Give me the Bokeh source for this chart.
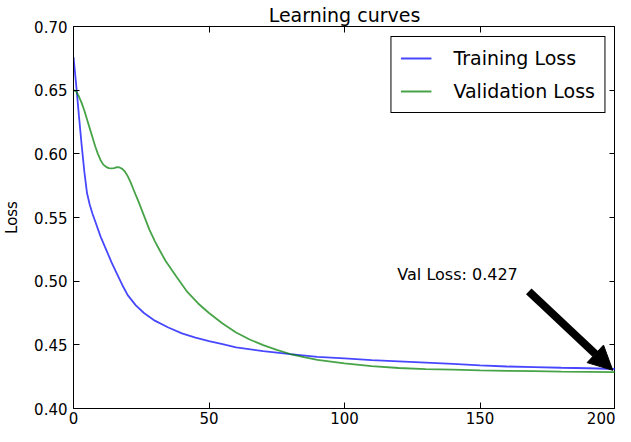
from bokeh.plotting import figure
from bokeh.models import (LinearAxis, Range1d, Arrow, NormalHead, Label, Legend,
                          LegendItem, FixedTicker)
from bokeh.embed import file_html
from bokeh.resources import INLINE

# ---- data ----
train_epochs = [0, 1, 2, 3, 4, 5, 6, 7, 8, 10, 12, 14, 16, 18, 20, 23, 26, 30, 35, 40,
                45, 50, 55, 60, 70, 80, 90, 100, 110, 120, 130, 140, 150, 160, 170, 180,
                190, 200]
train_loss = [0.676, 0.654, 0.630, 0.607, 0.586, 0.569, 0.560, 0.553, 0.547, 0.535,
              0.525, 0.515, 0.506, 0.497, 0.489, 0.481, 0.475, 0.469, 0.4636, 0.459,
              0.4557, 0.453, 0.4505, 0.448, 0.445, 0.4427, 0.4405, 0.4393, 0.438,
              0.437, 0.436, 0.435, 0.4339, 0.433, 0.4325, 0.432, 0.4316, 0.431]

val_epochs = [0, 1, 2, 3, 4, 5, 6, 7, 8, 9, 10, 11, 12, 13, 14, 15, 16, 17, 18, 19, 20,
              21, 22, 23, 24, 26, 28, 30, 32, 34, 38, 42, 46, 50, 55, 60, 65, 70, 75, 80,
              85, 90, 100, 110, 120, 130, 140, 150, 160, 170, 180, 190, 200]
val_loss = [0.650, 0.649, 0.645, 0.640, 0.634, 0.627, 0.620, 0.613, 0.606, 0.600,
            0.595, 0.5915, 0.5898, 0.5888, 0.5885, 0.5888, 0.5895, 0.5893, 0.5882, 0.586,
            0.5825, 0.578, 0.5728, 0.5675, 0.5625, 0.5515, 0.5405, 0.5315, 0.5235, 0.5158,
            0.5035, 0.4915, 0.4825, 0.4750, 0.4668, 0.4597, 0.4542, 0.4498, 0.4460,
            0.4428, 0.4403, 0.4382, 0.4355, 0.4332, 0.4318, 0.431, 0.4305, 0.430,
            0.4296, 0.4293, 0.429, 0.4288, 0.4285]

series_names = ["Training Loss", "Validation Loss"]
x_ticks = [0, 50, 100, 150, 200]
y_ticks = [0.40, 0.45, 0.50, 0.55, 0.60, 0.65, 0.70]
y_tick_labels = ["0.40", "0.45", "0.50", "0.55", "0.60", "0.65", "0.70"]
final_val_loss = 0.427
annot_text_pos = (119.5, 0.505)
annot_arrow_start = (168.0, 0.492)
annot_arrow_end = (199.0, 0.430)

FONT = "DejaVu Sans"

p = figure(width=615, height=426, output_backend="svg", toolbar_location=None,
           x_range=Range1d(0, 200), y_range=Range1d(0.40, 0.70),
           min_border_left=73, min_border_right=0, min_border_top=0,
           min_border_bottom=0, title="Learning curves")

p.title.text_font = FONT
p.title.text_font_size = "19px"
p.title.text_font_style = "normal"
p.title.text_color = "black"
p.title.align = "center"
p.title.standoff = 2

p.xgrid.visible = False
p.ygrid.visible = False
p.outline_line_color = "black"
p.outline_line_width = 1
p.background_fill_color = "white"
p.border_fill_color = "white"


def style_axis(ax, show_labels=True, standoff=5):
    ax.axis_line_color = "black"
    ax.axis_line_width = 1
    ax.major_tick_in = 6
    ax.major_tick_out = 0
    ax.minor_tick_in = 0
    ax.minor_tick_out = 0
    ax.major_tick_line_color = "black"
    ax.major_label_text_font = FONT
    ax.major_label_text_color = "black"
    ax.major_label_standoff = standoff
    if show_labels:
        ax.major_label_text_font_size = "15px"
    else:
        ax.major_label_text_font_size = "1px"
        ax.major_label_text_color = None
        ax.major_label_standoff = 0


p.xaxis.ticker = FixedTicker(ticks=x_ticks)
p.yaxis.ticker = FixedTicker(ticks=y_ticks)
p.yaxis.major_label_overrides = {t: s for t, s in zip(y_ticks, y_tick_labels)}
style_axis(p.xaxis[0], True, 3)
style_axis(p.yaxis[0], True, 6)
p.yaxis.axis_label = "Loss"
p.yaxis.axis_label_text_font = FONT
p.yaxis.axis_label_text_font_size = "15px"
p.yaxis.axis_label_text_font_style = "normal"
p.yaxis.axis_label_text_color = "black"
p.yaxis.axis_label_standoff = 10

top_axis = LinearAxis(ticker=FixedTicker(ticks=x_ticks))
style_axis(top_axis, False)
p.add_layout(top_axis, "above")
right_axis = LinearAxis(ticker=FixedTicker(ticks=y_ticks))
style_axis(right_axis, False)
p.add_layout(right_axis, "right")

r1 = p.line(train_epochs, train_loss, line_color="#0000ff", line_alpha=0.72, line_width=1.8)
r2 = p.line(val_epochs, val_loss, line_color="#008000", line_alpha=0.72, line_width=1.8)

legend = Legend(items=[LegendItem(label=series_names[0], renderers=[r1]),
                       LegendItem(label=series_names[1], renderers=[r2])],
                location="top_right")
legend.margin = 10
legend.padding = 9
legend.spacing = 9
legend.glyph_width = 31
legend.glyph_height = 24
legend.label_height = 24
legend.label_standoff = 22
legend.label_text_font = FONT
legend.label_text_font_size = "19px"
legend.label_text_color = "black"
legend.border_line_color = "black"
legend.border_line_width = 1
legend.border_line_alpha = 1
legend.background_fill_color = "white"
legend.background_fill_alpha = 1
p.add_layout(legend)

p.add_layout(Label(x=annot_text_pos[0], y=annot_text_pos[1],
                   text=f"Val Loss: {final_val_loss:.3f}",
                   text_font=FONT, text_font_size="16px", text_color="black",
                   text_align="left", text_baseline="middle"))

p.add_layout(Arrow(end=NormalHead(size=24, fill_color="black", line_color="black"),
                   x_start=annot_arrow_start[0], y_start=annot_arrow_start[1],
                   x_end=annot_arrow_end[0], y_end=annot_arrow_end[1],
                   line_width=8, line_color="black"))

open("out.html", "w").write(file_html(p, INLINE))
